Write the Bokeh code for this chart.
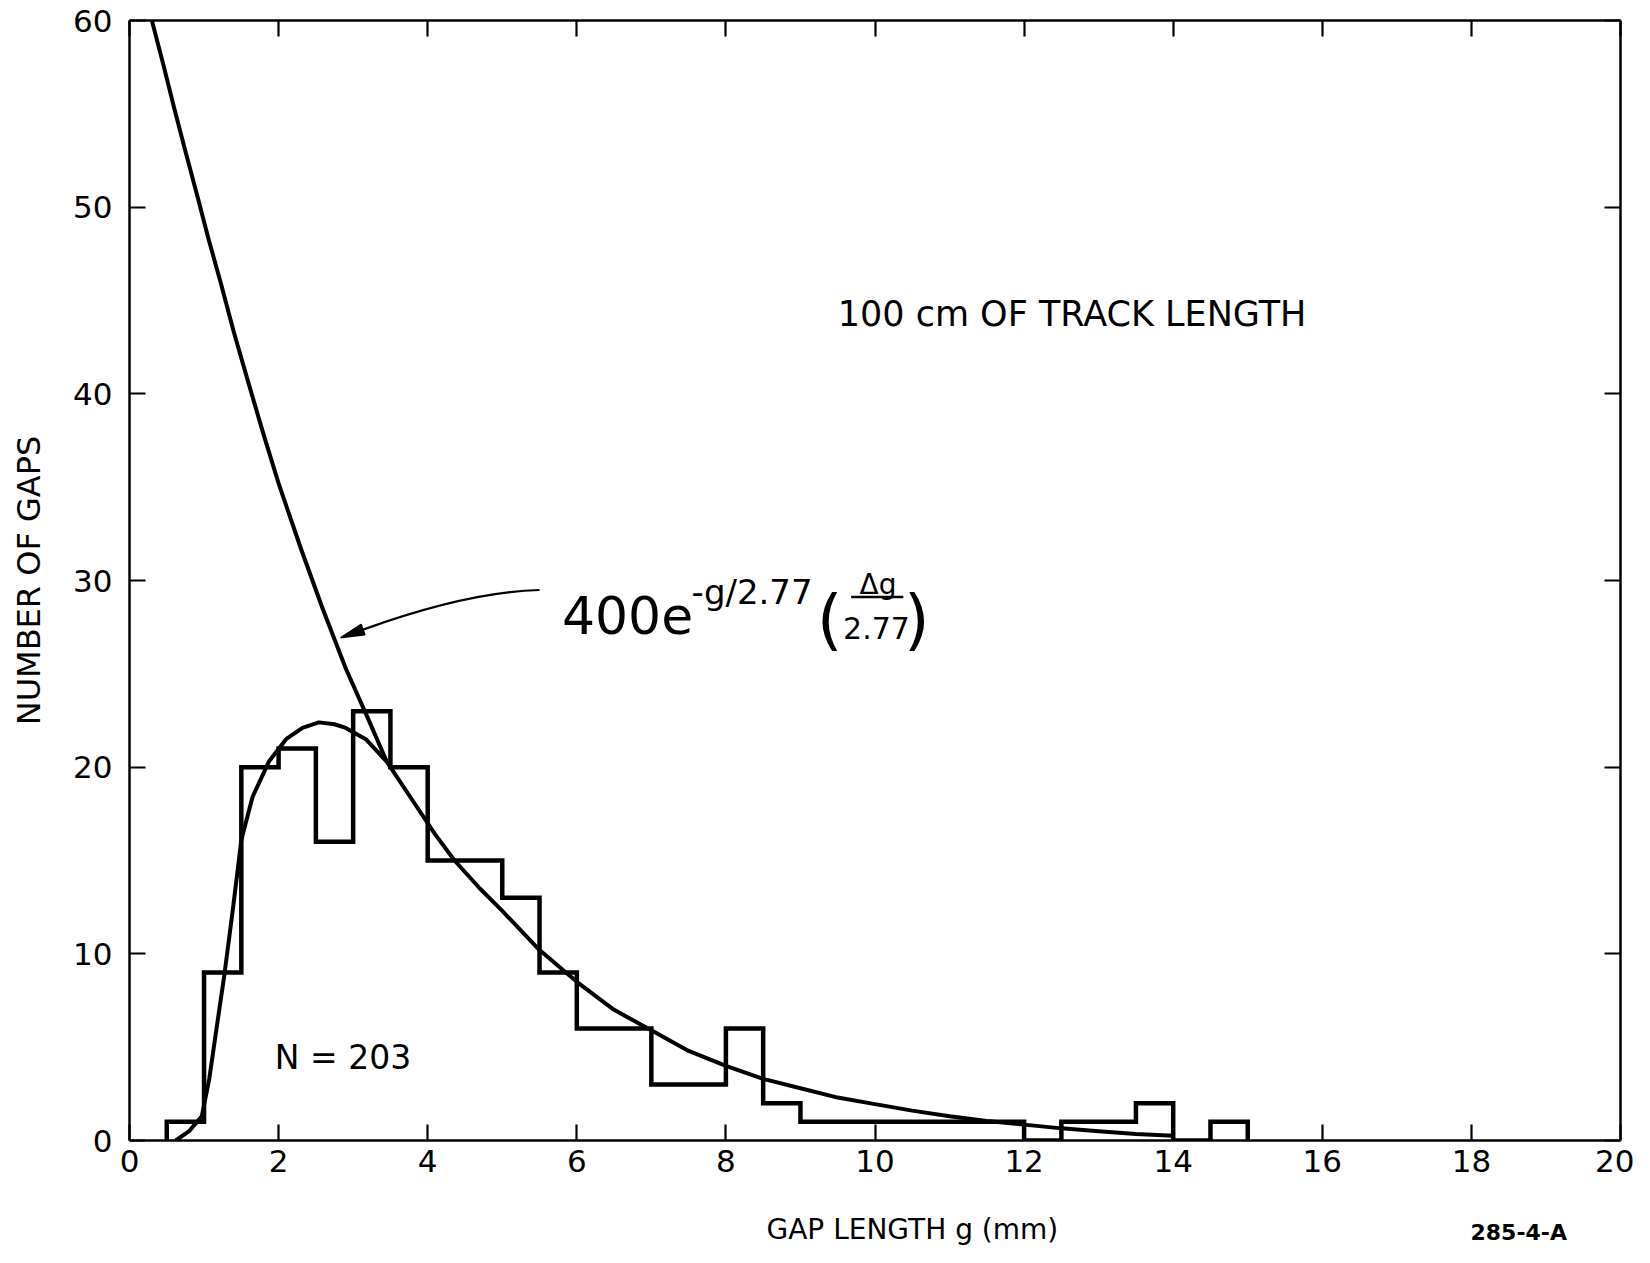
import math
from bokeh.plotting import figure
from bokeh.models import Range1d, FixedTicker, LinearAxis, Label, Title
from bokeh.embed import file_html
from bokeh.resources import INLINE

# ---------------- data ----------------
bin_left = [0.5, 1.0, 1.5, 2.0, 2.5, 3.0, 3.5, 4.0, 4.5, 5.0, 5.5, 6.0, 6.5, 7.0,
            7.5, 8.0, 8.5, 9.0, 9.5, 10.0, 10.5, 11.0, 11.5, 12.0, 12.5, 13.0,
            13.5, 14.0, 14.5]
bin_width = 0.5
counts = [1, 9, 20, 21, 16, 23, 20, 15, 15, 13, 9, 6, 6, 3,
          3, 6, 2, 1, 1, 1, 1, 1, 1, 0, 1, 1,
          2, 0, 1]

# exponential curve 400 e^(-g/2.77) (dg/2.77)
exp_g = [0.30, 0.45, 0.60, 0.75, 0.91, 1.06, 1.22, 1.40, 1.58, 1.80, 2.00, 2.30,
         2.59, 2.90, 3.20, 3.45, 3.80, 4.10, 4.36, 4.70, 5.00, 5.50, 6.00, 6.50,
         7.00, 7.50, 8.00, 8.50, 9.00, 9.50, 10.0, 10.5, 11.0, 11.5, 12.0, 12.5,
         13.0, 13.5, 14.0]
exp_n = [60.0, 57.7, 55.3, 53.0, 50.6, 48.3, 46.0, 43.3, 40.8, 37.8, 35.2, 31.7,
         28.5, 25.3, 22.6, 20.3, 18.2, 16.4, 15.0, 13.5, 12.3, 10.2, 8.5, 7.0,
         5.9, 4.8, 4.0, 3.3, 2.8, 2.3, 1.95, 1.6, 1.3, 1.05, 0.85, 0.65,
         0.5, 0.35, 0.25]

# rising fitted curve (merges into the exponential near g = 3.45)
fit_g = [0.62, 0.80, 0.97, 1.07, 1.16, 1.27, 1.39, 1.50, 1.65, 1.87, 2.10, 2.32,
         2.54, 2.75, 2.90, 3.17, 3.45]
fit_n = [0.0, 0.5, 1.3, 3.3, 5.8, 8.8, 12.5, 16.1, 18.4, 20.3, 21.5, 22.1,
         22.4, 22.3, 22.1, 21.5, 20.3]

x_ticks = [0, 2, 4, 6, 8, 10, 12, 14, 16, 18, 20]
y_ticks = [0, 10, 20, 30, 40, 50, 60]

x_label = "GAP LENGTH  g  (mm)"
y_label = "NUMBER OF GAPS"
track_note = "100 cm OF TRACK LENGTH"
n_note = "N = 203"
fig_code = "285-4-A"

# ---------------- layout ----------------
FONT = "DejaVu Sans"
W, H = 1634, 1247
BL, BR, BT, BB = 129, 14, 20, 107
FW, FH = W - BL - BR, H - BT - BB
X0, X1, Y0, Y1 = 0, 20, 0, 60
sx = FW / (X1 - X0)   # px per data unit
sy = FH / (Y1 - Y0)

p = figure(width=W, height=H, x_range=Range1d(X0, X1), y_range=Range1d(Y0, Y1),
           output_backend="svg", toolbar_location=None,
           min_border_left=BL, min_border_right=BR,
           min_border_top=BT, min_border_bottom=BB,
           background_fill_color="white", border_fill_color="white")
p.outline_line_color = None
p.xgrid.visible = False
p.ygrid.visible = False

def style_axis(ax, ticks, show_labels, standoff):
    ax.ticker = FixedTicker(ticks=ticks)
    ax.axis_line_width = 2.5
    ax.axis_line_color = "black"
    ax.major_tick_in = 16
    ax.major_tick_out = 0
    ax.major_tick_line_width = 2.2
    ax.major_tick_line_color = "black"
    ax.minor_tick_line_color = None
    if show_labels:
        ax.major_label_text_font = FONT
        ax.major_label_text_font_size = "31px"
        ax.major_label_text_color = "black"
        ax.major_label_standoff = standoff
    else:
        ax.major_label_overrides = {t: "" for t in ticks}
        ax.major_label_text_font_size = "1px"
        ax.major_label_standoff = 0

style_axis(p.xaxis[0], x_ticks, True, 9)
style_axis(p.yaxis[0], y_ticks, True, 17)
p.yaxis[0].axis_label = y_label
p.yaxis[0].axis_label_text_font = FONT
p.yaxis[0].axis_label_text_font_size = "32px"
p.yaxis[0].axis_label_text_font_style = "normal"
p.yaxis[0].axis_label_text_color = "black"
p.yaxis[0].axis_label_standoff = 22

top_ax = LinearAxis()
right_ax = LinearAxis()
style_axis(top_ax, x_ticks, False, 0)
style_axis(right_ax, y_ticks, False, 0)
p.add_layout(top_ax, "above")
p.add_layout(right_ax, "right")

# titles below the axis: x axis title and the drawing code
# (a large negative standoff gives a zero-height panel and lowers the text)
p.add_layout(Title(text=x_label, align="left", offset=637, text_font=FONT,
                   text_font_size="28px", text_font_style="normal",
                   text_color="black", standoff=-142), "below")
p.add_layout(Title(text=fig_code, align="left", offset=1341, text_font=FONT,
                   text_font_size="22px", text_font_style="bold",
                   text_color="black", standoff=-140), "below")

# ---------------- histogram outline ----------------
hx = [bin_left[0]]
hy = [0]
for left, c in zip(bin_left, counts):
    hx += [left, left + bin_width]
    hy += [c, c]
hx.append(bin_left[-1] + bin_width)
hy.append(0)
p.line(hx, hy, line_width=4.5, line_color="black", line_join="miter")

# ---------------- curves ----------------
p.line(exp_g, exp_n, line_width=4, line_color="black", line_join="round")
p.line(fit_g, fit_n, line_width=4, line_color="black", line_join="round")

# ---------------- arrow ----------------
tail = (5.50, 29.49)
ctrl = (4.53, 29.39)
tip = (2.83, 26.93)
dxp = (tip[0] - ctrl[0]) * sx
dyp = (tip[1] - ctrl[1]) * sy
L = math.hypot(dxp, dyp)
ux, uy = dxp / L, dyp / L
head_len, head_half = 24, 5.5
base = (tip[0] - ux * head_len / sx, tip[1] - uy * head_len / sy)
c1 = (base[0] + (-uy * head_half) / sx, base[1] + (ux * head_half) / sy)
c2 = (base[0] - (-uy * head_half) / sx, base[1] - (ux * head_half) / sy)
p.quadratic(x0=[tail[0]], y0=[tail[1]], x1=[base[0]], y1=[base[1]],
            cx=[ctrl[0]], cy=[ctrl[1]], line_width=2.2, line_color="black")
p.patch([tip[0], c1[0], c2[0]], [tip[1], c1[1], c2[1]],
        fill_color="black", line_color="black", line_width=1.5)

# ---------------- texts inside the frame ----------------
def lab(x, y, text, size, align="left", style="normal"):
    p.add_layout(Label(x=x, y=y, text=text, text_font=FONT,
                       text_font_size=size, text_align=align,
                       text_baseline="alphabetic", text_color="black",
                       text_font_style=style))

lab(9.50, 44.27, track_note, "35px")
lab(1.95, 4.43, n_note, "33px")

# formula 400 e^{-g/2.77} (Δg / 2.77)
lab(5.80, 28.16, "400e", "52px")
lab(7.54, 29.39, "-g/2.77", "34px")
lab(9.22, 27.89, "(", "66px")
lab(10.39, 27.89, ")", "66px")
lab(10.04, 29.76, "Δg", "28px", align="center")
lab(10.02, 27.47, "2.77", "30px", align="center")
p.line([9.68, 10.38], [29.12, 29.12], line_width=2.5, line_color="black")

open("out.html", "w").write(file_html(p, INLINE))
